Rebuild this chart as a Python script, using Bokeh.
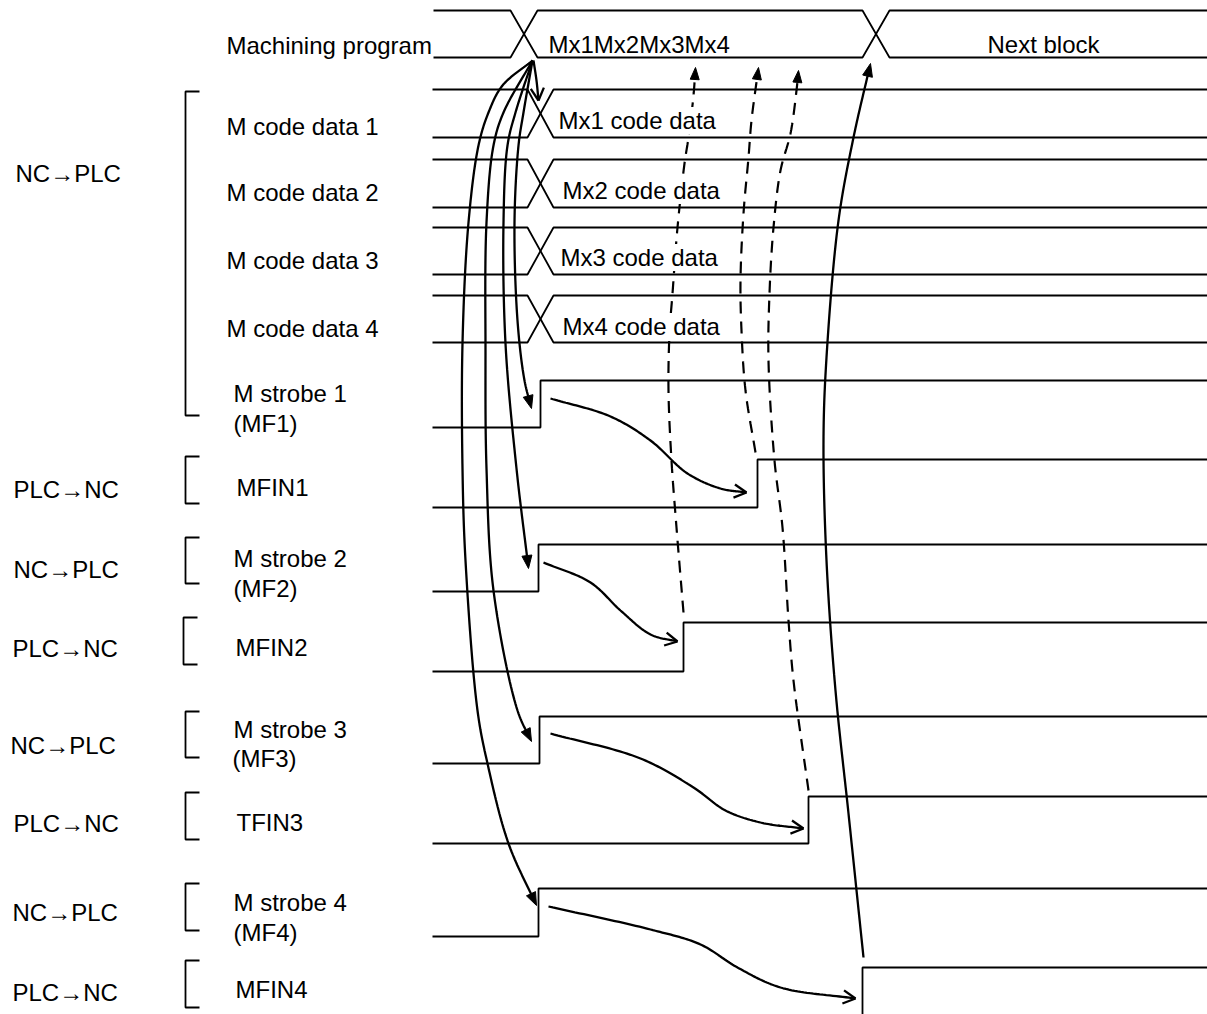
import numpy as np
from bokeh.plotting import figure
from bokeh.models import Range1d
from bokeh.core.properties import value
from bokeh.embed import file_html
from bokeh.resources import INLINE

FONT = value("Liberation Sans")
FS = "24px"

# ---------------- data ----------------
# machining program bus row
prog_levels = [10, 57]            # top, bottom
prog_edges = [510, 862]           # start of X transitions
prog_values = ["Mx1Mx2Mx3Mx4", "Next block"]
prog_value_x = [548, 1043]
prog_value_align = ["left", "center"]

# M code data bus rows
code_names = ["M code data 1", "M code data 2", "M code data 3", "M code data 4"]
code_top = [89, 159, 227, 295]
code_bot = [137, 207, 274, 342]
code_edge = [527, 527, 527, 527]
code_values = ["Mx1 code data", "Mx2 code data", "Mx3 code data", "Mx4 code data"]
code_value_x = [558, 562, 560, 562]
code_value_base = [120, 190, 257, 326]

# strobe / finish single-bit rows
bit_names = ["MF1", "MFIN1", "MF2", "MFIN2", "MF3", "TFIN3", "MF4", "MFIN4"]
bit_high = [380, 459, 544, 622, 716, 796, 888, 967]
bit_low = [427, 507, 591, 671, 763, 843, 936, 1030]
bit_rise = [540, 757, 538, 683, 539, 808, 538, 862]

X_START, X_END = 432, 1207
X_W = 26

# labels: text, x, baseline
sig_labels = [("Machining program", 226, 45),
              ("M code data 1", 226, 126), ("M code data 2", 226, 192),
              ("M code data 3", 226, 260), ("M code data 4", 226, 328),
              ("M strobe 1", 233, 393), ("(MF1)", 233, 423),
              ("MFIN1", 236, 487),
              ("M strobe 2", 233, 558), ("(MF2)", 233, 588),
              ("MFIN2", 235, 647),
              ("M strobe 3", 233, 729), ("(MF3)", 232, 758),
              ("TFIN3", 236, 822),
              ("M strobe 4", 233, 902), ("(MF4)", 233, 932),
              ("MFIN4", 235, 989)]
dir_labels = [("NC\u2192PLC", 15, 173), ("PLC\u2192NC", 13, 489),
              ("NC\u2192PLC", 13, 569), ("PLC\u2192NC", 12, 648),
              ("NC\u2192PLC", 10, 745), ("PLC\u2192NC", 13, 823),
              ("NC\u2192PLC", 12, 912), ("PLC\u2192NC", 12, 992)]

# brackets: x, y_top, y_bottom
brackets = [(185, 91, 415), (185, 456, 503), (185, 537, 583), (183, 617, 664),
            (185, 711, 757), (185, 792, 839), (185, 883, 930), (185, 960, 1007)]

# causal arrows (waypoints)
strobe_arrows = [
    [(532, 60), (523, 112), (518, 145), (514, 222), (517, 320), (524, 380), (531, 408)],
    [(532, 60), (515, 112), (507, 145), (503, 222), (505, 343), (516, 468), (528, 568)],
    [(532, 60), (503, 112), (493, 145), (486, 222), (485, 350), (486, 468), (493, 590),
     (517, 710), (531, 741)],
    [(532, 60), (502, 85), (488, 112), (478, 145), (468, 222), (462, 343), (462, 468),
     (465, 560), (477, 710), (487, 763), (508, 843), (536, 905)],
]
data_arrow = [(533, 60), (536, 80), (538, 100)]
fin_arrows = [
    [(550, 398), (610, 416), (650, 440), (687, 473), (720, 488), (746, 492)],
    [(543, 562), (590, 582), (620, 610), (650, 634), (677, 641)],
    [(550, 733), (640, 758), (693, 787), (725, 810), (760, 822), (803, 828)],
    [(548, 906), (650, 929), (700, 944), (737, 967), (780, 987), (855, 998)],
]
return_arrows = [
    [(755, 452), (745, 390), (741, 330), (740, 280), (743, 213), (748, 157), (751, 120),
     (758, 67)],
    [(683, 612), (676, 527), (671, 460), (668, 390), (669, 333), (672, 293), (677, 227),
     (684, 163), (688, 137), (693, 95), (695, 67)],
    [(808, 790), (793, 680), (788, 620), (782, 527), (774, 460), (768, 360), (769, 293),
     (773, 227), (780, 170), (790, 133), (796, 90), (798, 70)],
]
next_arrow = [(863, 957), (848, 813), (835, 690), (826, 560), (823, 440), (826, 357),
              (838, 220), (853, 137), (870, 63)]


# ---------------- helpers ----------------
def spline(pts, n=24, alpha=0.5):
    P = np.asarray(pts, float)
    P = np.vstack([2 * P[0] - P[1], P, 2 * P[-1] - P[-2]])
    res = []
    for i in range(len(P) - 3):
        p0, p1, p2, p3 = P[i:i + 4]
        t0 = 0.0
        t1 = t0 + max(np.linalg.norm(p1 - p0), 1e-6) ** alpha
        t2 = t1 + max(np.linalg.norm(p2 - p1), 1e-6) ** alpha
        t3 = t2 + max(np.linalg.norm(p3 - p2), 1e-6) ** alpha
        t = np.linspace(t1, t2, n, endpoint=False)[:, None]
        A1 = (t1 - t) / (t1 - t0) * p0 + (t - t0) / (t1 - t0) * p1
        A2 = (t2 - t) / (t2 - t1) * p1 + (t - t1) / (t2 - t1) * p2
        A3 = (t3 - t) / (t3 - t2) * p2 + (t - t2) / (t3 - t2) * p3
        B1 = (t2 - t) / (t2 - t0) * A1 + (t - t0) / (t2 - t0) * A2
        B2 = (t3 - t) / (t3 - t1) * A2 + (t - t1) / (t3 - t1) * A3
        res.append((t2 - t) / (t2 - t1) * B1 + (t - t1) / (t2 - t1) * B2)
    res.append(P[-2][None, :])
    return np.vstack(res)


def end_dir(c, L):
    tip = c[-1]
    dist = np.hypot(c[:, 0] - tip[0], c[:, 1] - tip[1])
    idx = np.where(dist >= L)[0]
    j = idx[-1] if len(idx) else 0
    u = tip - c[j]
    return u / np.linalg.norm(u)


def trim(c, cut):
    tip = c[-1]
    dist = np.hypot(c[:, 0] - tip[0], c[:, 1] - tip[1])
    u = end_dir(c, cut)
    keep = c[dist > cut]
    return np.vstack([keep, tip - u * cut])


def filled_head(c, L=13, w=5):
    tip = c[-1]
    u = end_dir(c, L)
    nrm = np.array([-u[1], u[0]])
    b = tip - u * L
    pts = [tip, b + nrm * w, b - nrm * w]
    return [q[0] for q in pts], [q[1] for q in pts]


def open_head(c, L=14, ang=28):
    tip = c[-1]
    u = end_dir(c, L)
    out = []
    for s in (1, -1):
        a = np.radians(ang) * s
        r = np.array([u[0] * np.cos(a) - u[1] * np.sin(a), u[0] * np.sin(a) + u[1] * np.cos(a)])
        q = tip - r * L
        out.append(([tip[0], q[0]], [tip[1], q[1]]))
    return out


# ---------------- figure ----------------
W, H = 1207, 1014
p = figure(width=W, height=H, x_range=Range1d(0, W), y_range=Range1d(H, 0),
           output_backend="svg", toolbar_location=None,
           x_axis_location=None, y_axis_location=None, min_border=0)
p.grid.visible = False
p.outline_line_color = None
p.background_fill_color = "white"
p.border_fill_color = "white"

sig_xs, sig_ys = [], []
# program bus
top, bot = prog_levels
xa, ya, xb, yb = [X_START + 1], [top], [X_START + 1], [bot]
lev_a, lev_b = top, bot
for e in prog_edges:
    xa += [e, e + X_W + 1]
    xb += [e, e + X_W + 1]
    ya += [lev_a, lev_b]
    yb += [lev_b, lev_a]
    lev_a, lev_b = lev_b, lev_a
xa.append(X_END); ya.append(lev_a)
xb.append(X_END); yb.append(lev_b)
sig_xs += [xa, xb]; sig_ys += [ya, yb]

# code data buses
for t, b, e in zip(code_top, code_bot, code_edge):
    sig_xs += [[X_START, e, e + X_W, X_END], [X_START, e, e + X_W, X_END]]
    sig_ys += [[t, t, b, b], [b, b, t, t]]

# bit signals
for hi, lo, r in zip(bit_high, bit_low, bit_rise):
    sig_xs.append([X_START, r, r, X_END])
    sig_ys.append([lo, lo, hi, hi])

p.multi_line(sig_xs, sig_ys, line_color="black", line_width=1.8)

# brackets
bx, by = [], []
for x, y0, y1 in brackets:
    bx.append([x + 14, x, x, x + 14])
    by.append([y0, y0, y1, y1])
p.multi_line(bx, by, line_color="black", line_width=1.8)

# arrows
solid_xs, solid_ys, head_xs, head_ys = [], [], [], []
dash_xs, dash_ys = [], []

for pts in strobe_arrows + [next_arrow]:
    c = spline(pts)
    tc = trim(c, 9)
    solid_xs.append(list(tc[:, 0])); solid_ys.append(list(tc[:, 1]))
    hx, hy = filled_head(c, 13, 5)
    head_xs.append(hx); head_ys.append(hy)

for pts in return_arrows:
    c = spline(pts)
    tc = trim(c, 8)
    dash_xs.append(list(tc[:, 0])); dash_ys.append(list(tc[:, 1]))
    hx, hy = filled_head(c, 12, 4.5)
    head_xs.append(hx); head_ys.append(hy)

for pts in fin_arrows + [data_arrow]:
    c = spline(pts)
    solid_xs.append(list(c[:, 0])); solid_ys.append(list(c[:, 1]))
    for hx, hy in open_head(c, 14, 28):
        solid_xs.append(hx); solid_ys.append(hy)

p.multi_line(solid_xs, solid_ys, line_color="black", line_width=2.3)
p.multi_line(dash_xs, dash_ys, line_color="black", line_width=2.2, line_dash="12 8")
p.patches(head_xs, head_ys, fill_color="black", line_color="black", line_width=1)

# texts
p.text(x=[l[1] for l in sig_labels], y=[l[2] for l in sig_labels],
       text=[l[0] for l in sig_labels], text_font=FONT, text_font_size=FS,
       text_baseline="alphabetic", text_align="left", text_color="black")
p.text(x=[l[1] for l in dir_labels], y=[l[2] for l in dir_labels],
       text=[l[0] for l in dir_labels], text_font=FONT, text_font_size=FS,
       text_baseline="alphabetic", text_align="left", text_color="black")
for txt, xv, al in zip(prog_values, prog_value_x, prog_value_align):
    p.text(x=[xv], y=[44], text=[txt], text_font=FONT, text_font_size=FS,
           text_baseline="alphabetic", text_align=al, text_color="black")
p.text(x=code_value_x, y=code_value_base, text=code_values, text_font=FONT,
       text_font_size=FS, text_baseline="alphabetic", text_align="left",
       text_color="black", background_fill_color="white")

open("out.html", "w").write(file_html(p, INLINE))
